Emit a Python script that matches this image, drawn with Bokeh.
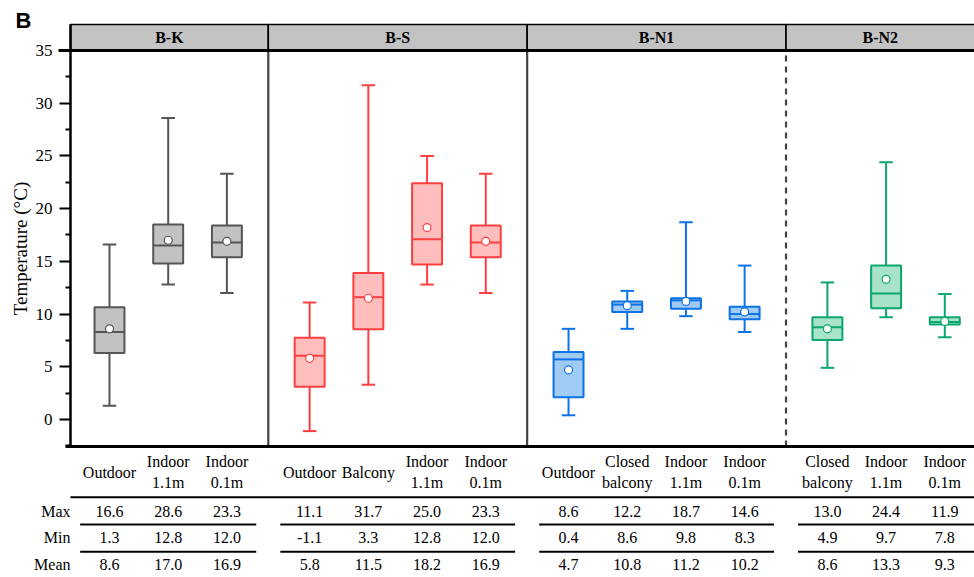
from bokeh.plotting import figure
from bokeh.models import Range1d, FixedTicker
from bokeh.embed import file_html
from bokeh.resources import INLINE
from bokeh.core.properties import value

# ---------------- data ----------------
groups = ["B-K", "B-S", "B-N1", "B-N2"]
group_sizes = [3, 4, 4, 3]
categories = ["Outdoor", "Indoor\n1.1m", "Indoor\n0.1m",
              "Outdoor", "Balcony", "Indoor\n1.1m", "Indoor\n0.1m",
              "Outdoor", "Closed\nbalcony", "Indoor\n1.1m", "Indoor\n0.1m",
              "Closed\nbalcony", "Indoor\n1.1m", "Indoor\n0.1m"]
max_vals = [16.6, 28.6, 23.3, 11.1, 31.7, 25.0, 23.3, 8.6, 12.2, 18.7, 14.6, 13.0, 24.4, 11.9]
min_vals = [1.3, 12.8, 12.0, -1.1, 3.3, 12.8, 12.0, 0.4, 8.6, 9.8, 8.3, 4.9, 9.7, 7.8]
mean_vals = [8.6, 17.0, 16.9, 5.8, 11.5, 18.2, 16.9, 4.7, 10.8, 11.2, 10.2, 8.6, 13.3, 9.3]
q1_vals = [6.3, 14.8, 15.4, 3.1, 8.55, 14.7, 15.4, 2.1, 10.2, 10.5, 9.5, 7.55, 10.55, 9.0]
median_vals = [8.3, 16.5, 16.8, 6.05, 11.6, 17.1, 16.8, 5.7, 10.9, 11.3, 10.0, 8.75, 11.95, 9.25]
q3_vals = [10.65, 18.5, 18.4, 7.75, 13.9, 22.4, 18.4, 6.4, 11.2, 11.5, 10.7, 9.7, 14.6, 9.7]
y_ticks = [0, 5, 10, 15, 20, 25, 30, 35]
row_names = ["Max", "Min", "Mean"]

edge_colors = ["#555555", "#ff3f3f", "#0d72e6", "#0aa86c"]
fill_colors = ["#c2c2c2", "#ffbebe", "#a0cbf4", "#a8e2c8"]
divider_dash = ["solid", "solid", "6 5"]

# ---------------- layout (canvas pixels -> data units) ----------------
W, H = 974, 577
KX, KY = 58.7, 10.543
PX_FIRST = 109.0      # canvas x of first box
PY_ZERO = 419.0       # canvas y of value 0


def fx(px):
    return 1 + (px - PX_FIRST) / KX


def fy(py):
    return (PY_ZERO - py) / KY


X_LEFT, X_RIGHT = fx(0), fx(W)
Y_BOTTOM, Y_TOP = fy(H), fy(0)
XA = fx(70)           # y-axis position
YH = fy(24)           # top of header band
YB = fy(446)          # bottom of plot area

GAP = 1.41
pos, gidx, firsts, lasts = [], [], [], []
start = 1.0
for g, n in enumerate(group_sizes):
    firsts.append(start)
    for i in range(n):
        pos.append(start + i)
        gidx.append(g)
    lasts.append(start + n - 1)
    start += n - 1 + GAP
dividers = [(lasts[i] + firsts[i + 1]) / 2 for i in range(len(groups) - 1)]

ecol = [edge_colors[g] for g in gidx]
fcol = [fill_colors[g] for g in gidx]

p = figure(width=W, height=H, x_range=Range1d(X_LEFT, X_RIGHT), y_range=Range1d(Y_BOTTOM, Y_TOP),
           x_axis_type=None, output_backend="svg", toolbar_location=None,
           min_border_left=0, min_border_top=0, min_border_right=0, min_border_bottom=0)
p.outline_line_color = None
p.ygrid.visible = False
p.background_fill_color = "white"
p.border_fill_color = "white"

SERIF = "Liberation Serif"

# header band
edges = [XA] + dividers + [X_RIGHT + 0.05]
p.quad(left=edges[:-1], right=edges[1:], bottom=[35] * 4, top=[YH] * 4,
       fill_color="#c3c3c3", line_color="black", line_width=1.6)
p.text(x=[(edges[i] + min(edges[i + 1], X_RIGHT)) / 2 for i in range(4)], y=[(35 + YH) / 2] * 4, text=groups,
       text_align="center", text_baseline="middle", text_font=value(SERIF),
       text_font_size="16px", text_font_style="bold", text_color="black")
# left frame line through the header band
p.segment(x0=[XA], y0=[35], x1=[XA], y1=[YH], line_color="black", line_width=2.5)

# panel dividers
for d, dash in zip(dividers, divider_dash):
    p.segment(x0=[d], y0=[YB], x1=[d], y1=[35], line_color="#444444", line_width=2.2, line_dash=dash)

# top and bottom rules of the plot area
p.segment(x0=[fx(58), fx(65)], y0=[35, YB], x1=[X_RIGHT, X_RIGHT], y1=[35, YB], line_color="black", line_width=3)

# boxplots
cap = 0.23
bw = 0.51
p.segment(x0=pos, y0=q3_vals, x1=pos, y1=max_vals, line_color=ecol, line_width=2)
p.segment(x0=pos, y0=q1_vals, x1=pos, y1=min_vals, line_color=ecol, line_width=2)
p.segment(x0=[x - cap / 2 for x in pos], y0=max_vals, x1=[x + cap / 2 for x in pos], y1=max_vals,
          line_color=ecol, line_width=2)
p.segment(x0=[x - cap / 2 for x in pos], y0=min_vals, x1=[x + cap / 2 for x in pos], y1=min_vals,
          line_color=ecol, line_width=2)
p.vbar(x=pos, width=bw, bottom=q1_vals, top=q3_vals, fill_color=fcol, line_color=ecol, line_width=2)
p.segment(x0=[x - bw / 2 for x in pos], y0=median_vals, x1=[x + bw / 2 for x in pos], y1=median_vals,
          line_color=ecol, line_width=2)
p.scatter(x=pos, y=mean_vals, size=8, fill_color="white", line_color=ecol, line_width=1.2)

# y axis drawn at a fixed location inside the full-canvas frame
ax = p.yaxis[0]
ax.fixed_location = XA
ax.ticker = FixedTicker(ticks=y_ticks, minor_ticks=[t - 2.5 for t in y_ticks])
ax.bounds = (YB, 35)
ax.axis_line_width = 2.5
ax.axis_line_color = "black"
ax.major_tick_out = 11
ax.major_tick_in = 0
ax.minor_tick_out = 5
ax.minor_tick_in = 0
ax.major_tick_line_width = 2
ax.minor_tick_line_width = 2
ax.major_tick_line_color = "black"
ax.minor_tick_line_color = "black"
ax.major_label_text_font = SERIF
ax.major_label_text_font_size = "17px"
ax.major_label_text_color = "black"
ax.major_label_standoff = 7
ax.axis_label = "Temperature (°C)"
ax.axis_label_text_font = SERIF
ax.axis_label_text_font_size = "19px"
ax.axis_label_text_font_style = "normal"
ax.axis_label_text_color = "black"
ax.axis_label_standoff = 2

# table: column headers
p.text(x=pos, y=[fy(471.7)] * len(pos), text=categories, text_align="center", text_baseline="middle",
       text_font=value(SERIF), text_font_size="16px", text_color="black", text_line_height=1.25)

# table rules
p.segment(x0=[XA], y0=[fy(496.7)], x1=[X_RIGHT], y1=[fy(496.7)], line_color="black", line_width=2)
for ry in (524.0, 551.3):
    p.segment(x0=[f - 0.5 for f in firsts], y0=[fy(ry)] * 4, x1=[l + 0.5 for l in lasts], y1=[fy(ry)] * 4,
              line_color="black", line_width=2)

# table values
row_py = [510.7, 537.3, 564.3]
for vals, ry in zip([max_vals, min_vals, mean_vals], row_py):
    p.text(x=pos, y=[fy(ry)] * len(pos), text=["%.1f" % v for v in vals], text_align="center",
           text_baseline="middle", text_font=value(SERIF), text_font_size="16px", text_color="black")
p.text(x=[XA] * 3, y=[fy(r) for r in row_py], text=row_names, text_align="right", text_baseline="middle",
       text_font=value(SERIF), text_font_size="16px", text_color="black")

# panel letter
p.text(x=[fx(15)], y=[fy(20)], text=["B"], text_align="left", text_baseline="middle",
       text_font=value("Liberation Sans"), text_font_size="22px", text_font_style="bold", text_color="black")

open("out.html", "w").write(file_html(p, INLINE))
